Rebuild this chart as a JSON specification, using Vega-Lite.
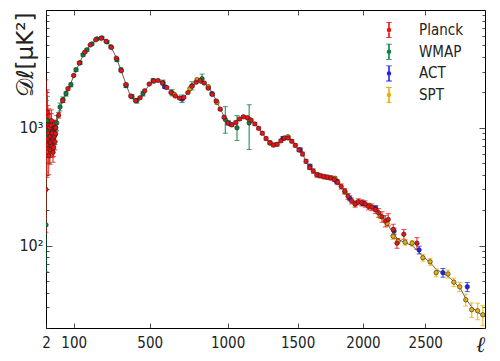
{
  "$schema": "https://vega.github.io/schema/vega-lite/v6.json",
  "width": 439,
  "height": 318,
  "autosize": {"type": "none"},
  "padding": {"left": 46, "top": 10, "right": 15, "bottom": 33},
  "background": "white",
  "config": {
    "view": {"stroke": "#000", "strokeWidth": 1},
    "axis": {
      "domain": false,
      "grid": false,
      "labelFont": "DejaVu Sans Condensed, DejaVu Sans",
      "labelFontSize": 15,
      "labelColor": "#222",
      "tickColor": "#222",
      "tickWidth": 0.8,
      "labelFlush": false,
      "labelOverlap": false
    }
  },
  "resolve": {"axis": {"x": "independent", "y": "independent"}},
  "datasets": {
    "theory": [
      {"l":2,"D":1050},{"l":3,"D":980},{"l":4,"D":920},{"l":5,"D":870},{"l":6,"D":840},{"l":8,"D":810},{"l":10,"D":800},{"l":13,"D":800},{"l":16,"D":820},{"l":20,"D":860},{"l":25,"D":930},{"l":30,"D":1020},{"l":35,"D":1150},{"l":40,"D":1300},{"l":45,"D":1450},{"l":50,"D":1580},{"l":56,"D":1720},{"l":65,"D":1900},{"l":76,"D":2120},{"l":88,"D":2400},{"l":100,"D":2750},{"l":110,"D":3080},{"l":128,"D":3620},{"l":142,"D":4130},{"l":160,"D":4650},{"l":184,"D":5200},{"l":209,"D":5650},{"l":225,"D":5780},{"l":240,"D":5700},{"l":260,"D":5380},{"l":281,"D":4850},{"l":300,"D":4250},{"l":313,"D":3820},{"l":335,"D":3100},{"l":363,"D":2350},{"l":380,"D":2000},{"l":397,"D":1810},{"l":410,"D":1720},{"l":425,"D":1700},{"l":440,"D":1760},{"l":460,"D":1930},{"l":490,"D":2250},{"l":520,"D":2480},{"l":540,"D":2530},{"l":555,"D":2520},{"l":581,"D":2400},{"l":605,"D":2200},{"l":636,"D":1990},{"l":668,"D":1840},{"l":690,"D":1790},{"l":710,"D":1800},{"l":731,"D":1950},{"l":763,"D":2250},{"l":796,"D":2440},{"l":815,"D":2520},{"l":829,"D":2510},{"l":850,"D":2380},{"l":875,"D":2180},{"l":900,"D":1950},{"l":928,"D":1660},{"l":963,"D":1350},{"l":996,"D":1120},{"l":1020,"D":1065},{"l":1040,"D":1075},{"l":1072,"D":1170},{"l":1110,"D":1235},{"l":1135,"D":1225},{"l":1160,"D":1165},{"l":1185,"D":1100},{"l":1206,"D":1040},{"l":1241,"D":910},{"l":1276,"D":800},{"l":1312,"D":725},{"l":1340,"D":712},{"l":1365,"D":745},{"l":1392,"D":800},{"l":1420,"D":828},{"l":1445,"D":812},{"l":1465,"D":770},{"l":1496,"D":685},{"l":1533,"D":610},{"l":1560,"D":530},{"l":1580,"D":478},{"l":1607,"D":442},{"l":1645,"D":402},{"l":1700,"D":386},{"l":1740,"D":380},{"l":1782,"D":368},{"l":1800,"D":352},{"l":1820,"D":333},{"l":1840,"D":313},{"l":1860,"D":288},{"l":1882,"D":262},{"l":1905,"D":243},{"l":1937,"D":229},{"l":1976,"D":230},{"l":2014,"D":228},{"l":2050,"D":219},{"l":2100,"D":205},{"l":2150,"D":178},{"l":2191,"D":155},{"l":2239,"D":127},{"l":2279,"D":113},{"l":2336,"D":106},{"l":2393,"D":100},{"l":2440,"D":90},{"l":2481,"D":81},{"l":2540,"D":72},{"l":2590,"D":63},{"l":2650,"D":58},{"l":2700,"D":54},{"l":2750,"D":48},{"l":2800,"D":42},{"l":2840,"D":35},{"l":2890,"D":30},{"l":2940,"D":27},{"l":3000,"D":25}
    ],
    "obs": [
      {"s":"WMAP","l":2,"D":150,"lo":60,"hi":520},
      {"s":"WMAP","l":3,"D":870,"lo":420,"hi":1700},
      {"s":"WMAP","l":5,"D":1150,"lo":650,"hi":1850},
      {"s":"WMAP","l":7,"D":950,"lo":600,"hi":1400},
      {"s":"WMAP","l":10,"D":720,"lo":500,"hi":1000},
      {"s":"WMAP","l":14,"D":880,"lo":650,"hi":1150},
      {"s":"WMAP","l":18,"D":800,"lo":620,"hi":1020},
      {"s":"WMAP","l":22,"D":900,"lo":720,"hi":1110},
      {"s":"WMAP","l":27,"D":870,"lo":720,"hi":1040},
      {"s":"WMAP","l":33,"D":1100,"lo":950,"hi":1270},
      {"s":"WMAP","l":45,"D":1500,"lo":1390,"hi":1620},
      {"s":"WMAP","l":56,"D":1735,"lo":1640,"hi":1830},
      {"s":"WMAP","l":68,"D":1950,"lo":1860,"hi":2040},
      {"s":"WMAP","l":88,"D":2320,"lo":2230,"hi":2410},
      {"s":"WMAP","l":110,"D":3111,"lo":3010,"hi":3210},
      {"s":"WMAP","l":128,"D":3565,"lo":3460,"hi":3670},
      {"s":"WMAP","l":142,"D":4168,"lo":4060,"hi":4280},
      {"s":"WMAP","l":160,"D":4590,"lo":4480,"hi":4700},
      {"s":"WMAP","l":184,"D":5158,"lo":5040,"hi":5280},
      {"s":"WMAP","l":209,"D":5690,"lo":5560,"hi":5820},
      {"s":"WMAP","l":234,"D":5800,"lo":5660,"hi":5940},
      {"s":"WMAP","l":260,"D":5364,"lo":5230,"hi":5500},
      {"s":"WMAP","l":281,"D":4866,"lo":4740,"hi":5000},
      {"s":"WMAP","l":313,"D":3778,"lo":3660,"hi":3900},
      {"s":"WMAP","l":335,"D":3111,"lo":3010,"hi":3220},
      {"s":"WMAP","l":363,"D":2279,"lo":2200,"hi":2360},
      {"s":"WMAP","l":397,"D":1840,"lo":1770,"hi":1920},
      {"s":"WMAP","l":425,"D":1702,"lo":1620,"hi":1780},
      {"s":"WMAP","l":460,"D":1950,"lo":1860,"hi":2040},
      {"s":"WMAP","l":520,"D":2512,"lo":2400,"hi":2620},
      {"s":"WMAP","l":581,"D":2416,"lo":2300,"hi":2540},
      {"s":"WMAP","l":636,"D":1988,"lo":1870,"hi":2110},
      {"s":"WMAP","l":699,"D":1770,"lo":1640,"hi":1900},
      {"s":"WMAP","l":763,"D":2279,"lo":2100,"hi":2460},
      {"s":"WMAP","l":829,"D":2612,"lo":2380,"hi":2860},
      {"s":"WMAP","l":985,"D":1175,"lo":900,"hi":1514},
      {"s":"WMAP","l":1065,"D":1000,"lo":780,"hi":1270},
      {"s":"WMAP","l":1150,"D":1100,"lo":655,"hi":1570},
      {"s":"SPT","l":650,"D":1920,"lo":1850,"hi":1990},
      {"s":"SPT","l":750,"D":2150,"lo":2080,"hi":2220},
      {"s":"SPT","l":796,"D":2560,"lo":2480,"hi":2640},
      {"s":"SPT","l":870,"D":2230,"lo":2160,"hi":2300},
      {"s":"SPT","l":928,"D":1640,"lo":1590,"hi":1690},
      {"s":"SPT","l":1025,"D":1066,"lo":1031,"hi":1101},
      {"s":"SPT","l":1150,"D":1180,"lo":1145,"hi":1215},
      {"s":"SPT","l":1300,"D":740,"lo":715,"hi":765},
      {"s":"SPT","l":1429,"D":840,"lo":815,"hi":865},
      {"s":"SPT","l":1650,"D":398,"lo":383,"hi":413},
      {"s":"SPT","l":1782,"D":373,"lo":359,"hi":387},
      {"s":"SPT","l":1860,"D":285,"lo":273,"hi":297},
      {"s":"SPT","l":1940,"D":226,"lo":216,"hi":236},
      {"s":"SPT","l":2050,"D":218,"lo":208,"hi":228},
      {"s":"SPT","l":2135,"D":178,"lo":169,"hi":187},
      {"s":"SPT","l":2191,"D":155,"lo":147,"hi":163},
      {"s":"SPT","l":2239,"D":120,"lo":113,"hi":127},
      {"s":"SPT","l":2279,"D":109,"lo":103,"hi":115},
      {"s":"SPT","l":2336,"D":107,"lo":101,"hi":113},
      {"s":"SPT","l":2393,"D":105,"lo":99,"hi":111},
      {"s":"SPT","l":2481,"D":79,"lo":74,"hi":84},
      {"s":"SPT","l":2540,"D":73,"lo":68,"hi":78},
      {"s":"SPT","l":2590,"D":59,"lo":54.5,"hi":63.5},
      {"s":"SPT","l":2688,"D":57.5,"lo":53,"hi":62},
      {"s":"SPT","l":2737,"D":49,"lo":45,"hi":53},
      {"s":"SPT","l":2786,"D":44.7,"lo":40.7,"hi":48.7},
      {"s":"SPT","l":2837,"D":34.7,"lo":30.7,"hi":38.7},
      {"s":"SPT","l":2887,"D":28.6,"lo":24.6,"hi":32.6},
      {"s":"SPT","l":2937,"D":28,"lo":23.5,"hi":32.5},
      {"s":"SPT","l":2981,"D":25.9,"lo":20.9,"hi":30.9},
      {"s":"ACT","l":590,"D":2230,"lo":2170,"hi":2290},
      {"s":"ACT","l":700,"D":1760,"lo":1700,"hi":1820},
      {"s":"ACT","l":895,"D":1950,"lo":1890,"hi":2010},
      {"s":"ACT","l":1006,"D":1100,"lo":1055,"hi":1145},
      {"s":"ACT","l":1392,"D":812,"lo":782,"hi":842},
      {"s":"ACT","l":1520,"D":650,"lo":625,"hi":675},
      {"s":"ACT","l":1593,"D":471,"lo":451,"hi":491},
      {"s":"ACT","l":1795,"D":350,"lo":335,"hi":365},
      {"s":"ACT","l":1896,"D":252,"lo":240,"hi":264},
      {"s":"ACT","l":2000,"D":229,"lo":219,"hi":239},
      {"s":"ACT","l":2100,"D":208,"lo":198,"hi":218},
      {"s":"ACT","l":2247,"D":133,"lo":125,"hi":141},
      {"s":"ACT","l":2450,"D":92,"lo":85,"hi":99},
      {"s":"ACT","l":2646,"D":59,"lo":54,"hi":64},
      {"s":"ACT","l":2850,"D":44.7,"lo":40.7,"hi":48.7},
      {"s":"Planck","l":2,"D":300,"lo":130,"hi":2550},
      {"s":"Planck","l":3,"D":1050,"lo":500,"hi":2000},
      {"s":"Planck","l":4,"D":720,"lo":380,"hi":1400},
      {"s":"Planck","l":5,"D":1350,"lo":800,"hi":2100},
      {"s":"Planck","l":6,"D":1020,"lo":650,"hi":1550},
      {"s":"Planck","l":7,"D":900,"lo":600,"hi":1300},
      {"s":"Planck","l":8,"D":580,"lo":400,"hi":850},
      {"s":"Planck","l":9,"D":1050,"lo":750,"hi":1450},
      {"s":"Planck","l":10,"D":760,"lo":560,"hi":1030},
      {"s":"Planck","l":11,"D":1000,"lo":750,"hi":1320},
      {"s":"Planck","l":12,"D":650,"lo":490,"hi":860},
      {"s":"Planck","l":13,"D":850,"lo":650,"hi":1100},
      {"s":"Planck","l":14,"D":750,"lo":580,"hi":960},
      {"s":"Planck","l":15,"D":1050,"lo":830,"hi":1320},
      {"s":"Planck","l":16,"D":1150,"lo":920,"hi":1420},
      {"s":"Planck","l":17,"D":900,"lo":720,"hi":1120},
      {"s":"Planck","l":18,"D":700,"lo":560,"hi":870},
      {"s":"Planck","l":19,"D":900,"lo":730,"hi":1100},
      {"s":"Planck","l":20,"D":780,"lo":640,"hi":950},
      {"s":"Planck","l":21,"D":620,"lo":510,"hi":750},
      {"s":"Planck","l":22,"D":820,"lo":680,"hi":980},
      {"s":"Planck","l":23,"D":680,"lo":570,"hi":810},
      {"s":"Planck","l":24,"D":990,"lo":840,"hi":1160},
      {"s":"Planck","l":25,"D":850,"lo":720,"hi":1000},
      {"s":"Planck","l":26,"D":1000,"lo":860,"hi":1160},
      {"s":"Planck","l":27,"D":760,"lo":650,"hi":890},
      {"s":"Planck","l":28,"D":1000,"lo":870,"hi":1150},
      {"s":"Planck","l":29,"D":890,"lo":770,"hi":1020},
      {"s":"Planck","l":30,"D":1000,"lo":930,"hi":1070},
      {"s":"Planck","l":40,"D":1280,"lo":1210,"hi":1350},
      {"s":"Planck","l":55,"D":1700,"lo":1640,"hi":1760},
      {"s":"Planck","l":76,"D":2150,"lo":2090,"hi":2210},
      {"s":"Planck","l":100,"D":2780,"lo":2720,"hi":2840},
      {"s":"Planck","l":125,"D":3550,"lo":3485,"hi":3615},
      {"s":"Planck","l":150,"D":4380,"lo":4310,"hi":4450},
      {"s":"Planck","l":176,"D":5050,"lo":4975,"hi":5125},
      {"s":"Planck","l":203,"D":5580,"lo":5500,"hi":5660},
      {"s":"Planck","l":230,"D":5760,"lo":5680,"hi":5840},
      {"s":"Planck","l":256,"D":5420,"lo":5340,"hi":5500},
      {"s":"Planck","l":283,"D":4800,"lo":4730,"hi":4870},
      {"s":"Planck","l":310,"D":3900,"lo":3840,"hi":3960},
      {"s":"Planck","l":337,"D":3050,"lo":3000,"hi":3100},
      {"s":"Planck","l":363,"D":2330,"lo":2290,"hi":2370},
      {"s":"Planck","l":390,"D":1860,"lo":1825,"hi":1895},
      {"s":"Planck","l":417,"D":1700,"lo":1665,"hi":1735},
      {"s":"Planck","l":443,"D":1800,"lo":1765,"hi":1835},
      {"s":"Planck","l":470,"D":2060,"lo":2025,"hi":2095},
      {"s":"Planck","l":497,"D":2350,"lo":2310,"hi":2390},
      {"s":"Planck","l":524,"D":2500,"lo":2460,"hi":2540},
      {"s":"Planck","l":550,"D":2520,"lo":2480,"hi":2560},
      {"s":"Planck","l":577,"D":2400,"lo":2360,"hi":2440},
      {"s":"Planck","l":603,"D":2200,"lo":2160,"hi":2240},
      {"s":"Planck","l":630,"D":1990,"lo":1955,"hi":2025},
      {"s":"Planck","l":657,"D":1860,"lo":1825,"hi":1895},
      {"s":"Planck","l":683,"D":1790,"lo":1755,"hi":1825},
      {"s":"Planck","l":710,"D":1810,"lo":1775,"hi":1845},
      {"s":"Planck","l":737,"D":1990,"lo":1955,"hi":2025},
      {"s":"Planck","l":763,"D":2250,"lo":2210,"hi":2290},
      {"s":"Planck","l":790,"D":2440,"lo":2400,"hi":2480},
      {"s":"Planck","l":817,"D":2520,"lo":2480,"hi":2560},
      {"s":"Planck","l":843,"D":2400,"lo":2360,"hi":2440},
      {"s":"Planck","l":870,"D":2170,"lo":2130,"hi":2210},
      {"s":"Planck","l":897,"D":1920,"lo":1880,"hi":1960},
      {"s":"Planck","l":923,"D":1690,"lo":1655,"hi":1725},
      {"s":"Planck","l":950,"D":1440,"lo":1405,"hi":1475},
      {"s":"Planck","l":977,"D":1230,"lo":1200,"hi":1260},
      {"s":"Planck","l":1003,"D":1100,"lo":1070,"hi":1130},
      {"s":"Planck","l":1030,"D":1060,"lo":1030,"hi":1090},
      {"s":"Planck","l":1057,"D":1110,"lo":1080,"hi":1140},
      {"s":"Planck","l":1083,"D":1190,"lo":1160,"hi":1220},
      {"s":"Planck","l":1110,"D":1240,"lo":1210,"hi":1270},
      {"s":"Planck","l":1137,"D":1220,"lo":1190,"hi":1250},
      {"s":"Planck","l":1163,"D":1160,"lo":1130,"hi":1190},
      {"s":"Planck","l":1190,"D":1080,"lo":1050,"hi":1110},
      {"s":"Planck","l":1217,"D":990,"lo":962,"hi":1018},
      {"s":"Planck","l":1243,"D":900,"lo":872,"hi":928},
      {"s":"Planck","l":1270,"D":810,"lo":784,"hi":836},
      {"s":"Planck","l":1297,"D":750,"lo":725,"hi":775},
      {"s":"Planck","l":1323,"D":715,"lo":690,"hi":740},
      {"s":"Planck","l":1350,"D":725,"lo":700,"hi":750},
      {"s":"Planck","l":1377,"D":775,"lo":750,"hi":800},
      {"s":"Planck","l":1403,"D":820,"lo":795,"hi":845},
      {"s":"Planck","l":1430,"D":820,"lo":795,"hi":845},
      {"s":"Planck","l":1457,"D":770,"lo":746,"hi":794},
      {"s":"Planck","l":1483,"D":710,"lo":686,"hi":734},
      {"s":"Planck","l":1510,"D":650,"lo":628,"hi":672},
      {"s":"Planck","l":1537,"D":600,"lo":578,"hi":622},
      {"s":"Planck","l":1563,"D":520,"lo":500,"hi":540},
      {"s":"Planck","l":1590,"D":460,"lo":442,"hi":478},
      {"s":"Planck","l":1617,"D":430,"lo":412,"hi":448},
      {"s":"Planck","l":1643,"D":400,"lo":382,"hi":418},
      {"s":"Planck","l":1670,"D":392,"lo":376,"hi":408},
      {"s":"Planck","l":1697,"D":385,"lo":369,"hi":401},
      {"s":"Planck","l":1723,"D":381,"lo":365,"hi":397},
      {"s":"Planck","l":1750,"D":376,"lo":360,"hi":392},
      {"s":"Planck","l":1777,"D":365,"lo":349,"hi":381},
      {"s":"Planck","l":1803,"D":345,"lo":329,"hi":361},
      {"s":"Planck","l":1830,"D":318,"lo":302,"hi":334},
      {"s":"Planck","l":1857,"D":290,"lo":275,"hi":305},
      {"s":"Planck","l":1883,"D":262,"lo":247,"hi":277},
      {"s":"Planck","l":1910,"D":240,"lo":226,"hi":254},
      {"s":"Planck","l":1937,"D":226,"lo":212,"hi":240},
      {"s":"Planck","l":1963,"D":236,"lo":222,"hi":250},
      {"s":"Planck","l":1990,"D":231,"lo":217,"hi":245},
      {"s":"Planck","l":2017,"D":226,"lo":212,"hi":240},
      {"s":"Planck","l":2043,"D":215,"lo":201,"hi":229},
      {"s":"Planck","l":2070,"D":212,"lo":198,"hi":226},
      {"s":"Planck","l":2097,"D":202,"lo":187,"hi":217},
      {"s":"Planck","l":2123,"D":190,"lo":174,"hi":206},
      {"s":"Planck","l":2150,"D":176,"lo":158,"hi":194},
      {"s":"Planck","l":2177,"D":162,"lo":144,"hi":180},
      {"s":"Planck","l":2200,"D":167,"lo":147,"hi":187},
      {"s":"Planck","l":2240,"D":137,"lo":122,"hi":152},
      {"s":"Planck","l":2270,"D":105,"lo":95,"hi":115},
      {"s":"Planck","l":2325,"D":125,"lo":113,"hi":137},
      {"s":"Planck","l":2432,"D":105,"lo":93,"hi":117}
    ]
  },
  "layer": [
    {
      "data": {"name": "theory"},
      "mark": {"type": "line", "color": "#333", "strokeWidth": 0.8, "clip": true},
      "encoding": {
        "x": {"field": "l", "type": "quantitative",
          "scale": {"type": "pow", "exponent": 0.8, "domain": [2, 3000], "zero": false, "nice": false},
          "axis": {"orient": "bottom", "values": [2, 100, 500, 1000, 1500, 2000, 2500], "format": "d", "tickSize": -5, "labelPadding": 12,
            "title": "ℓ", "titleFont": "DejaVu Serif", "titleFontStyle": "italic", "titleFontWeight": "normal", "titleFontSize": 22, "titleColor": "#222",
            "titleX": 434, "titleY": 23, "titleAlign": "center", "titleBaseline": "alphabetic", "titleAngle": 0}},
        "y": {"field": "D", "type": "quantitative",
          "scale": {"type": "log", "domain": [20, 10000], "nice": false},
          "axis": {"orient": "left", "values": [100, 1000], "labelExpr": "datum.value == 100 ? '10²' : '10³'", "tickSize": -6, "labelPadding": 9, "labelFontSize": 16,
            "title": "𝒟ℓ[μK²]", "titleFont": "DejaVu Sans", "titleFontWeight": "normal", "titleFontSize": 23, "titleColor": "#222",
            "titleAngle": 270, "titleX": -21, "titleY": 2, "titleAlign": "right", "titleBaseline": "middle"}}
      }
    },
    {
      "data": {"name": "obs"},
      "mark": {"type": "rule", "strokeWidth": 1.3, "opacity": 0.75, "clip": true},
      "encoding": {
        "x": {"field": "l", "type": "quantitative",
          "scale": {"type": "pow", "exponent": 0.8, "domain": [2, 3000], "zero": false, "nice": false},
          "axis": {"orient": "top", "values": [2, 100, 500, 1000, 1500, 2000, 2500], "labels": false, "tickSize": -5, "title": null}},
        "y": {"field": "lo", "type": "quantitative",
          "scale": {"type": "log", "domain": [20, 10000], "nice": false},
          "axis": {"orient": "right", "values": [100, 1000], "labels": false, "tickSize": -6, "title": null}},
        "y2": {"field": "hi"},
        "color": {"field": "s", "type": "nominal",
          "scale": {"domain": ["Planck", "WMAP", "ACT", "SPT"], "range": ["#ee1111", "#0a8040", "#2222ee", "#e8b000"]},
          "legend": {"orient": "none", "legendX": 334, "legendY": 12, "title": null, "padding": 0,
            "symbolType": "M0,-1L0,1M-0.35,-1L0.35,-1M-0.35,1L0.35,1M0.18,0A0.18,0.18,0,1,1,-0.18,0A0.18,0.18,0,1,1,0.18,0Z",
            "symbolSize": 256, "symbolStrokeWidth": 1.6, "symbolOpacity": 1, "symbolFillColor": "#333",
            "clipHeight": 16,
            "labelFont": "DejaVu Sans Condensed, DejaVu Sans", "labelFontSize": 15, "labelColor": "#222", "labelOffset": 21, "rowPadding": 5.7}}
      }
    },
    {
      "data": {"name": "obs"},
      "mark": {"type": "tick", "orient": "horizontal", "size": 5, "thickness": 1, "opacity": 0.75, "clip": true},
      "encoding": {
        "x": {"field": "l", "type": "quantitative",
          "scale": {"type": "pow", "exponent": 0.8, "domain": [2, 3000], "zero": false, "nice": false}, "axis": null},
        "y": {"field": "lo", "type": "quantitative",
          "scale": {"type": "log", "domain": [20, 10000], "nice": false},
          "axis": {"orient": "left", "values": [20, 30, 40, 50, 60, 70, 80, 90, 200, 300, 400, 500, 600, 700, 800, 900, 2000, 3000, 4000, 5000, 6000, 7000, 8000, 9000], "labels": false, "tickSize": -3, "title": null}},
        "color": {"field": "s", "type": "nominal", "legend": null}
      }
    },
    {
      "data": {"name": "obs"},
      "mark": {"type": "tick", "orient": "horizontal", "size": 5, "thickness": 1, "opacity": 0.75, "clip": true},
      "encoding": {
        "x": {"field": "l", "type": "quantitative",
          "scale": {"type": "pow", "exponent": 0.8, "domain": [2, 3000], "zero": false, "nice": false}, "axis": null},
        "y": {"field": "hi", "type": "quantitative",
          "scale": {"type": "log", "domain": [20, 10000], "nice": false},
          "axis": {"orient": "right", "values": [20, 30, 40, 50, 60, 70, 80, 90, 200, 300, 400, 500, 600, 700, 800, 900, 2000, 3000, 4000, 5000, 6000, 7000, 8000, 9000], "labels": false, "tickSize": -3, "title": null}},
        "color": {"field": "s", "type": "nominal", "legend": null}
      }
    },
    {
      "data": {"name": "obs"},
      "mark": {"type": "circle", "size": 20, "opacity": 1, "stroke": "#222", "strokeWidth": 0.6, "clip": true},
      "encoding": {
        "x": {"field": "l", "type": "quantitative",
          "scale": {"type": "pow", "exponent": 0.8, "domain": [2, 3000], "zero": false, "nice": false}, "axis": null},
        "y": {"field": "D", "type": "quantitative",
          "scale": {"type": "log", "domain": [20, 10000], "nice": false}, "axis": null},
        "color": {"field": "s", "type": "nominal", "legend": null}
      }
    }
  ]
}
